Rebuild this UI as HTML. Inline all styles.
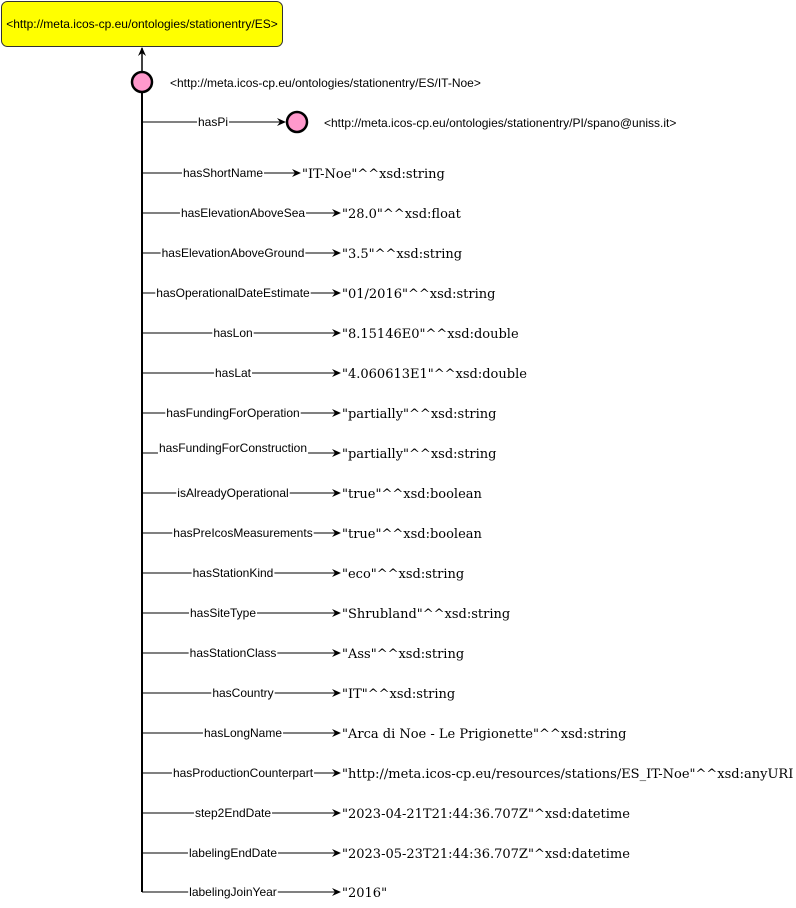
<!DOCTYPE html>
<html><head><style>body{margin:0;background:#fff}svg{display:block}</style></head><body>
<svg width="796" height="908" xmlns="http://www.w3.org/2000/svg">
<defs><marker id="a" markerWidth="10" markerHeight="10" refX="8" refY="5" orient="auto" markerUnits="userSpaceOnUse"><path d="M0,1 L9,5 L0,9 L3,5 Z" fill="#000"/></marker></defs>
<rect x="1.5" y="1.5" width="281" height="45" rx="6" fill="#ffff00" stroke="#333" stroke-width="1"/>
<text x="142" y="28" font-family="Liberation Sans, sans-serif" font-size="12" text-anchor="middle">&lt;http://meta.icos-cp.eu/ontologies/stationentry/ES&gt;</text>
<line x1="142" y1="71" x2="142" y2="48" stroke="#000" stroke-width="1.5" marker-end="url(#a)"/>
<line x1="142" y1="93" x2="142" y2="892" stroke="#000" stroke-width="2"/>
<circle cx="142" cy="82" r="10" fill="#ff99cc" stroke="#000" stroke-width="2.5"/>
<text x="170" y="87" font-family="Liberation Sans, sans-serif" font-size="12">&lt;http://meta.icos-cp.eu/ontologies/stationentry/ES/IT-Noe&gt;</text>
<line x1="142" y1="122" x2="285" y2="122" stroke="#000" marker-end="url(#a)"/>
<rect x="197" y="115" width="32" height="14" fill="#fff"/>
<text x="213" y="126" font-family="Liberation Sans, sans-serif" font-size="12" text-anchor="middle">hasPi</text>
<circle cx="297" cy="122" r="10" fill="#ff99cc" stroke="#000" stroke-width="2.5"/>
<text x="324" y="127" font-family="Liberation Sans, sans-serif" font-size="12">&lt;http://meta.icos-cp.eu/ontologies/stationentry/PI/spano@uniss.it&gt;</text>
<g font-family="Liberation Sans, sans-serif" font-size="12" text-anchor="middle" stroke="none">
<g id="rows"></g>
</g>
<script>
const rows=[[173,"hasShortName",223,300,'"IT-Noe"^^xsd:string',302],
[213,"hasElevationAboveSea",243,340,'"28.0"^^xsd:float'],
[253,"hasElevationAboveGround",233,340,'"3.5"^^xsd:string'],
[293,"hasOperationalDateEstimate",233,340,'"01/2016"^^xsd:string'],
[333,"hasLon",233,340,'"8.15146E0"^^xsd:double'],
[373,"hasLat",233,340,'"4.060613E1"^^xsd:double'],
[413,"hasFundingForOperation",233,340,'"partially"^^xsd:string'],
[453,"hasFundingForConstruction",233,340,'"partially"^^xsd:string',342,448],
[493,"isAlreadyOperational",233,340,'"true"^^xsd:boolean'],
[533,"hasPreIcosMeasurements",243,340,'"true"^^xsd:boolean'],
[573,"hasStationKind",233,340,'"eco"^^xsd:string'],
[613,"hasSiteType",223,340,'"Shrubland"^^xsd:string'],
[653,"hasStationClass",233,340,'"Ass"^^xsd:string'],
[693,"hasCountry",243,340,'"IT"^^xsd:string'],
[733,"hasLongName",243,340,'"Arca di Noe - Le Prigionette"^^xsd:string'],
[773,"hasProductionCounterpart",243,340,'"http://meta.icos-cp.eu/resources/stations/ES_IT-Noe"^^xsd:anyURI'],
[813,"step2EndDate",233,340,'"2023-04-21T21:44:36.707Z"^xsd:datetime'],
[853,"labelingEndDate",233,340,'"2023-05-23T21:44:36.707Z"^xsd:datetime'],
[892,"labelingJoinYear",233,340,'"2016"']];
const ns="http://www.w3.org/2000/svg",g=document.getElementById("rows");
function el(t,a,txt){const e=document.createElementNS(ns,t);for(const k in a)e.setAttribute(k,a[k]);if(txt)e.textContent=txt;g.appendChild(e);return e;}
for(const r of rows){const [y,l,cx,ex,v]=r;const tx=r[5]||342;const ly=r[6]||y;
el("line",{x1:142,y1:y,x2:ex,y2:y,stroke:"#000","stroke-width":1,"marker-end":"url(#a)"});
const t=el("text",{x:cx,y:ly+4},l);const w=t.getComputedTextLength();
const bg=document.createElementNS(ns,"rect");bg.setAttribute("x",cx-w/2-1);bg.setAttribute("y",ly-7);bg.setAttribute("width",w+2);bg.setAttribute("height",13);bg.setAttribute("fill","#fff");g.insertBefore(bg,t);
el("text",{x:tx,y:y+5,"font-family":"DejaVu Serif, serif","font-size":13,"text-anchor":"start"},v);}
</script>
</svg>
</body></html>
